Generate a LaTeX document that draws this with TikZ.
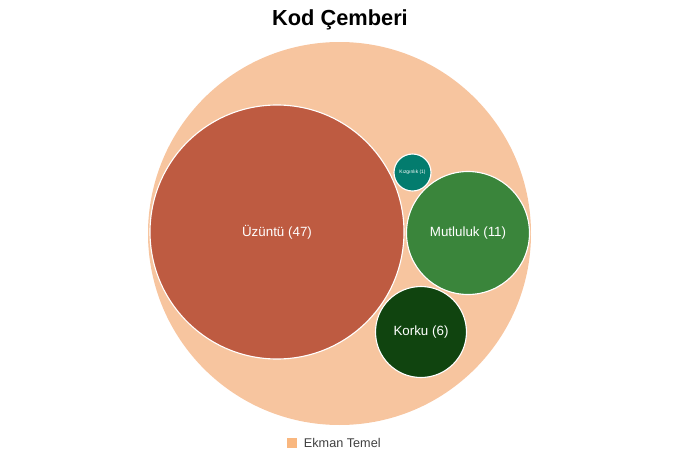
\documentclass[tikz,border=0pt]{standalone}
\usepackage{fontspec}
\setmainfont{Liberation Sans}
\begin{document}
\begin{tikzpicture}[x=0.025cm,y=-0.025cm,
  bubble/.style={draw=white,line width=0.8pt}]
% Colors define
\definecolor{myPeach}{HTML}{F7C59F}
\definecolor{myRust}{HTML}{BE5B41}
\definecolor{myGreen}{HTML}{3A853B}
\definecolor{myDark}{HTML}{10440F}
\definecolor{myTeal}{HTML}{037C6E}

% Frame
\useasboundingbox (0,0) rectangle (680,454);

% Title
\node (title) at (340,20) {\fontsize{15.5}{18}\selectfont\bfseries Kod Çemberi};

% Outer circle
\fill[myPeach] (339.5,233.5) circle[radius=191.5];

% Inner circles
\fill[myRust,bubble] (277,232) circle[radius=127];
\fill[myGreen,bubble] (468,233) circle[radius=61.5];
\fill[myDark,bubble] (421,332) circle[radius=45.5];
\fill[myTeal,bubble] (412.5,172.5) circle[radius=18.5];

% Labels
\node[white,font=\fontsize{9.5}{11}\selectfont] (sad) at (277,232) {Üzüntü (47)};
\node[white,font=\fontsize{9.5}{11}\selectfont] (happy) at (468,233) {Mutluluk (11)};
\node[white,font=\fontsize{9.5}{11}\selectfont] (fear) at (421,332) {Korku (6)};
\node[white,font=\fontsize{3.5}{4}\selectfont] (anger) at (412.5,172.5) {Kızgınlık (1)};

% Legend
\fill[myPeach!80!orange] (287,438) rectangle (297,448);
\node[anchor=west,font=\fontsize{9}{11}\selectfont,text=black!75] (legend) at (299,443) {Ekman Temel};
\end{tikzpicture}
\end{document}
